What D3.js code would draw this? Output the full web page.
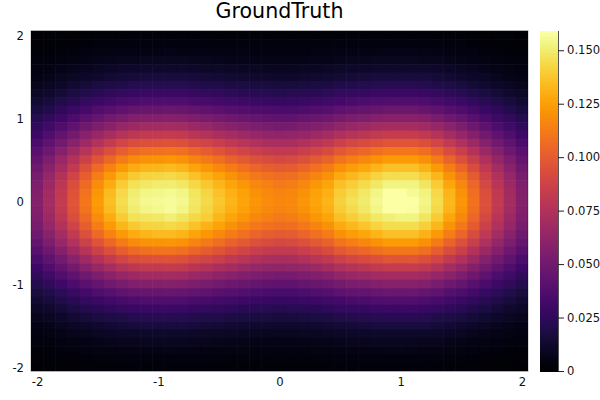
<!DOCTYPE html>
<html><head><meta charset="utf-8">
<script src="https://cdn.jsdelivr.net/npm/d3@7"></script>
<style>html,body{margin:0;padding:0;background:#fff}svg{display:block;font-family:"DejaVu Sans",sans-serif}</style>
</head><body><svg id="c" width="600" height="400"></svg>
<script>
const titleText = "GroundTruth";
const xCenters = [-2,-1.9,-1.8,-1.7,-1.6,-1.5,-1.4,-1.3,-1.2,-1.1,-1,-.9,-.8,-.7,-.6,-.5,-.4,-.3,-.2,-.1,0,.1,.2,.3,.4,.5,.6,.7,.8,.9,1,1.1,1.2,1.3,1.4,1.5,1.6,1.7,1.8,1.9,2];
const yCenters = [2,1.9,1.8,1.7,1.6,1.5,1.4,1.3,1.2,1.1,1,.9,.8,.7,.6,.5,.4,.3,.2,.1,0,-.1,-.2,-.3,-.4,-.5,-.6,-.7,-.8,-.9,-1,-1.1,-1.2,-1.3,-1.4,-1.5,-1.6,-1.7,-1.8,-1.9,-2];
const xTicks = [-2,-1,0,1,2];
const yTicks = [-2,-1,0,1,2];
const barTicks = [0,.025,.05,.075,.1,.125,.15];
const barTickLabels = ["0","0.025","0.050","0.075","0.100","0.125","0.150"];
const colorMax = 0.159;
const density = [
[.0010,.0013,.0015,.0017,.0020,.0022,.0024,.0026,.0027,.0028,.0028,.0028,.0028,.0027,.0026,.0025,.0024,.0023,.0022,.0021,.0021,.0021,.0022,.0023,.0024,.0025,.0026,.0027,.0028,.0029,.0029,.0029,.0028,.0026,.0024,.0022,.0020,.0017,.0015,.0013,.0010],
[.0016,.0019,.0022,.0026,.0030,.0033,.0036,.0039,.0041,.0042,.0042,.0042,.0042,.0040,.0039,.0037,.0036,.0034,.0033,.0032,.0032,.0032,.0033,.0034,.0036,.0038,.0039,.0041,.0042,.0043,.0043,.0043,.0042,.0039,.0036,.0033,.0029,.0026,.0022,.0019,.0016],
[.0023,.0028,.0033,.0039,.0044,.0050,.0054,.0058,.0061,.0062,.0062,.0063,.0062,.0060,.0058,.0055,.0053,.0051,.0049,.0048,.0047,.0047,.0049,.0051,.0053,.0056,.0058,.0060,.0062,.0064,.0064,.0064,.0062,.0058,.0053,.0049,.0044,.0038,.0033,.0028,.0023],
[.0032,.0039,.0046,.0054,.0062,.0069,.0076,.0081,.0085,.0087,.0087,.0088,.0087,.0083,.0081,.0077,.0074,.0071,.0068,.0067,.0066,.0066,.0068,.0071,.0074,.0079,.0082,.0084,.0087,.0089,.0089,.0089,.0086,.0081,.0074,.0068,.0061,.0053,.0046,.0039,.0032],
[.0045,.0054,.0064,.0075,.0085,.0095,.0104,.0112,.0117,.0119,.0120,.0121,.0119,.0115,.0111,.0106,.0102,.0098,.0094,.0092,.0090,.0091,.0094,.0098,.0102,.0109,.0112,.0116,.0119,.0122,.0122,.0122,.0119,.0112,.0102,.0094,.0084,.0073,.0063,.0054,.0045],
[.0061,.0074,.0087,.0102,.0117,.0130,.0142,.0152,.0160,.0163,.0164,.0165,.0163,.0156,.0151,.0145,.0139,.0133,.0128,.0125,.0123,.0124,.0128,.0133,.0139,.0148,.0153,.0158,.0163,.0167,.0167,.0167,.0162,.0152,.0140,.0128,.0114,.0100,.0086,.0074,.0061],
[.0082,.0099,.0117,.0137,.0157,.0175,.0190,.0204,.0214,.0219,.0220,.0221,.0219,.0210,.0203,.0195,.0186,.0179,.0172,.0168,.0165,.0166,.0172,.0179,.0186,.0199,.0206,.0212,.0219,.0224,.0224,.0224,.0217,.0204,.0188,.0172,.0154,.0134,.0116,.0099,.0082],
[.0107,.0130,.0154,.0179,.0205,.0229,.0250,.0268,.0281,.0287,.0289,.0290,.0287,.0276,.0266,.0255,.0244,.0235,.0226,.0220,.0216,.0218,.0226,.0235,.0244,.0261,.0270,.0278,.0287,.0294,.0294,.0294,.0285,.0268,.0246,.0226,.0202,.0176,.0152,.0130,.0107],
[.0137,.0166,.0197,.0230,.0263,.0294,.0320,.0344,.0360,.0367,.0370,.0372,.0367,.0353,.0341,.0327,.0313,.0301,.0289,.0282,.0277,.0280,.0289,.0301,.0313,.0334,.0346,.0356,.0367,.0377,.0377,.0377,.0365,.0344,.0315,.0289,.0258,.0225,.0194,.0166,.0137],
[.0173,.0209,.0247,.0289,.0331,.0370,.0402,.0432,.0453,.0462,.0465,.0468,.0462,.0444,.0429,.0411,.0393,.0378,.0364,.0355,.0349,.0352,.0364,.0378,.0393,.0420,.0435,.0447,.0462,.0474,.0474,.0474,.0459,.0432,.0396,.0364,.0325,.0283,.0244,.0209,.0173],
[.0213,.0258,.0305,.0357,.0408,.0456,.0497,.0534,.0559,.0570,.0574,.0578,.0570,.0548,.0530,.0508,.0486,.0467,.0449,.0438,.0431,.0434,.0449,.0467,.0486,.0519,.0537,.0552,.0570,.0585,.0585,.0585,.0567,.0534,.0489,.0449,.0401,.0350,.0302,.0258,.0213],
[.0258,.0312,.0369,.0432,.0494,.0552,.0601,.0645,.0676,.0690,.0694,.0699,.0690,.0663,.0641,.0614,.0587,.0565,.0543,.0530,.0521,.0525,.0543,.0565,.0587,.0627,.0650,.0668,.0690,.0708,.0708,.0708,.0685,.0645,.0592,.0543,.0485,.0423,.0365,.0312,.0258],
[.0306,.0369,.0437,.0511,.0585,.0653,.0711,.0764,.0801,.0817,.0822,.0827,.0817,.0785,.0759,.0727,.0696,.0669,.0643,.0627,.0617,.0622,.0643,.0669,.0696,.0743,.0769,.0791,.0817,.0838,.0838,.0838,.0812,.0764,.0701,.0643,.0574,.0501,.0432,.0369,.0306],
[.0356,.0429,.0509,.0595,.0680,.0760,.0828,.0889,.0932,.0950,.0956,.0962,.0950,.0913,.0883,.0846,.0809,.0779,.0748,.0729,.0717,.0723,.0748,.0779,.0809,.0864,.0895,.0920,.0950,.0975,.0975,.0975,.0944,.0889,.0815,.0748,.0668,.0582,.0503,.0429,.0356],
[.0405,.0489,.0579,.0677,.0775,.0866,.0942,.1012,.1061,.1082,.1089,.1096,.1082,.1040,.1005,.0963,.0921,.0886,.0852,.0831,.0817,.0824,.0852,.0886,.0921,.0984,.1019,.1047,.1082,.1110,.1110,.1110,.1075,.1012,.0928,.0852,.0761,.0663,.0572,.0489,.0405],
[.0452,.0545,.0647,.0756,.0865,.0966,.1052,.1130,.1184,.1207,.1215,.1223,.1207,.1161,.1122,.1075,.1028,.0989,.0950,.0927,.0911,.0919,.0950,.0989,.1028,.1098,.1137,.1169,.1207,.1239,.1239,.1239,.1200,.1130,.1036,.0950,.0849,.0740,.0639,.0545,.0452],
[.0494,.0596,.0707,.0826,.0946,.1056,.1150,.1235,.1295,.1321,.1329,.1338,.1321,.1269,.1227,.1176,.1125,.1082,.1039,.1014,.0997,.1005,.1039,.1082,.1125,.1201,.1244,.1278,.1321,.1355,.1355,.1355,.1312,.1235,.1133,.1039,.0929,.0809,.0699,.0596,.0494],
[.0530,.0640,.0759,.0887,.1015,.1133,.1234,.1325,.1389,.1417,.1426,.1435,.1417,.1362,.1316,.1261,.1206,.1161,.1115,.1088,.1069,.1079,.1115,.1161,.1206,.1289,.1334,.1371,.1417,.1453,.1453,.1453,.1408,.1325,.1216,.1115,.0996,.0868,.0749,.0640,.0530],
[.0557,.0673,.0798,.0932,.1067,.1192,.1297,.1393,.1461,.1490,.1499,.1509,.1490,.1432,.1384,.1326,.1269,.1220,.1172,.1144,.1124,.1134,.1172,.1220,.1269,.1355,.1403,.1442,.1490,.1528,.1528,.1528,.1480,.1393,.1278,.1172,.1047,.0913,.0788,.0673,.0557],
[.0574,.0693,.0822,.0960,.1099,.1228,.1337,.1436,.1505,.1535,.1544,.1554,.1535,.1475,.1426,.1366,.1307,.1257,.1208,.1178,.1158,.1168,.1208,.1257,.1307,.1396,.1445,.1485,.1535,.1590,.1590,.1560,.1525,.1436,.1317,.1208,.1079,.0941,.0812,.0693,.0574],
[.0580,.0700,.0830,.0970,.1110,.1240,.1350,.1450,.1520,.1550,.1560,.1570,.1550,.1490,.1440,.1380,.1320,.1270,.1220,.1190,.1170,.1180,.1220,.1270,.1320,.1410,.1460,.1500,.1550,.1590,.1590,.1590,.1540,.1450,.1330,.1220,.1090,.0950,.0820,.0700,.0580],
[.0574,.0693,.0822,.0960,.1099,.1228,.1337,.1436,.1505,.1535,.1550,.1570,.1540,.1475,.1426,.1366,.1307,.1257,.1208,.1178,.1158,.1168,.1208,.1257,.1307,.1396,.1445,.1485,.1535,.1590,.1590,.1580,.1525,.1436,.1317,.1208,.1079,.0941,.0812,.0693,.0574],
[.0557,.0673,.0798,.0932,.1067,.1192,.1297,.1393,.1461,.1480,.1490,.1510,.1480,.1432,.1400,.1326,.1269,.1220,.1172,.1144,.1124,.1134,.1172,.1220,.1269,.1355,.1403,.1442,.1490,.1510,.1530,.1530,.1480,.1393,.1278,.1172,.1047,.0913,.0788,.0673,.0557],
[.0530,.0640,.0759,.0887,.1015,.1133,.1234,.1325,.1389,.1417,.1426,.1435,.1417,.1362,.1316,.1261,.1206,.1161,.1115,.1088,.1069,.1079,.1115,.1161,.1206,.1289,.1334,.1371,.1417,.1453,.1453,.1453,.1408,.1325,.1216,.1115,.0996,.0868,.0749,.0640,.0530],
[.0494,.0596,.0707,.0826,.0946,.1056,.1150,.1235,.1295,.1321,.1340,.1338,.1321,.1269,.1227,.1176,.1125,.1082,.1039,.1014,.0997,.1005,.1039,.1082,.1125,.1201,.1244,.1278,.1321,.1355,.1355,.1355,.1312,.1235,.1133,.1039,.0929,.0809,.0699,.0596,.0494],
[.0452,.0545,.0647,.0756,.0865,.0966,.1052,.1130,.1184,.1207,.1215,.1223,.1207,.1161,.1122,.1075,.1028,.0989,.0950,.0927,.0911,.0919,.0950,.0989,.1028,.1098,.1137,.1169,.1207,.1239,.1239,.1239,.1200,.1130,.1036,.0950,.0849,.0740,.0639,.0545,.0452],
[.0405,.0489,.0579,.0677,.0775,.0866,.0942,.1012,.1061,.1082,.1095,.1096,.1082,.1040,.1005,.0963,.0921,.0886,.0852,.0831,.0817,.0824,.0852,.0886,.0921,.0984,.1019,.1047,.1082,.1110,.1110,.1110,.1075,.1012,.0928,.0852,.0761,.0663,.0572,.0489,.0405],
[.0356,.0429,.0509,.0595,.0680,.0760,.0828,.0889,.0932,.0950,.0956,.0962,.0950,.0913,.0883,.0846,.0809,.0779,.0748,.0729,.0717,.0723,.0748,.0779,.0809,.0864,.0895,.0920,.0950,.0975,.0975,.0975,.0944,.0889,.0815,.0748,.0668,.0582,.0503,.0429,.0356],
[.0306,.0369,.0437,.0511,.0585,.0653,.0711,.0764,.0801,.0817,.0822,.0827,.0817,.0785,.0759,.0727,.0696,.0669,.0643,.0627,.0617,.0622,.0643,.0669,.0696,.0743,.0769,.0791,.0817,.0838,.0838,.0838,.0812,.0764,.0701,.0643,.0574,.0501,.0432,.0369,.0306],
[.0258,.0312,.0369,.0432,.0494,.0552,.0601,.0645,.0676,.0690,.0694,.0699,.0690,.0663,.0641,.0614,.0587,.0565,.0543,.0530,.0521,.0525,.0543,.0565,.0587,.0627,.0650,.0668,.0690,.0708,.0708,.0708,.0685,.0645,.0592,.0543,.0485,.0423,.0365,.0312,.0258],
[.0213,.0258,.0305,.0357,.0408,.0456,.0497,.0534,.0559,.0570,.0574,.0578,.0570,.0548,.0530,.0508,.0486,.0467,.0449,.0438,.0431,.0434,.0449,.0467,.0486,.0519,.0537,.0552,.0570,.0585,.0585,.0585,.0567,.0534,.0489,.0449,.0401,.0350,.0302,.0258,.0213],
[.0173,.0209,.0247,.0289,.0331,.0370,.0402,.0432,.0453,.0462,.0465,.0468,.0462,.0444,.0429,.0411,.0393,.0378,.0364,.0355,.0349,.0352,.0364,.0378,.0393,.0420,.0435,.0447,.0462,.0474,.0474,.0474,.0459,.0432,.0396,.0364,.0325,.0283,.0244,.0209,.0173],
[.0137,.0166,.0197,.0230,.0263,.0294,.0320,.0344,.0360,.0367,.0370,.0372,.0367,.0353,.0341,.0327,.0313,.0301,.0289,.0282,.0277,.0280,.0289,.0301,.0313,.0334,.0346,.0356,.0367,.0377,.0377,.0377,.0365,.0344,.0315,.0289,.0258,.0225,.0194,.0166,.0137],
[.0107,.0130,.0154,.0179,.0205,.0229,.0250,.0268,.0281,.0287,.0289,.0290,.0287,.0276,.0266,.0255,.0244,.0235,.0226,.0220,.0216,.0218,.0226,.0235,.0244,.0261,.0270,.0278,.0287,.0294,.0294,.0294,.0285,.0268,.0246,.0226,.0202,.0176,.0152,.0130,.0107],
[.0082,.0099,.0117,.0137,.0157,.0175,.0190,.0204,.0214,.0219,.0220,.0221,.0219,.0210,.0203,.0195,.0186,.0179,.0172,.0168,.0165,.0166,.0172,.0179,.0186,.0199,.0206,.0212,.0219,.0224,.0224,.0224,.0217,.0204,.0188,.0172,.0154,.0134,.0116,.0099,.0082],
[.0061,.0074,.0087,.0102,.0117,.0130,.0142,.0152,.0160,.0163,.0164,.0165,.0163,.0156,.0151,.0145,.0139,.0133,.0128,.0125,.0123,.0124,.0128,.0133,.0139,.0148,.0153,.0158,.0163,.0167,.0167,.0167,.0162,.0152,.0140,.0128,.0114,.0100,.0086,.0074,.0061],
[.0045,.0054,.0064,.0075,.0085,.0095,.0104,.0112,.0117,.0119,.0120,.0121,.0119,.0115,.0111,.0106,.0102,.0098,.0094,.0092,.0090,.0091,.0094,.0098,.0102,.0109,.0112,.0116,.0119,.0122,.0122,.0122,.0119,.0112,.0102,.0094,.0084,.0073,.0063,.0054,.0045],
[.0032,.0039,.0046,.0054,.0062,.0069,.0076,.0081,.0085,.0087,.0087,.0088,.0087,.0083,.0081,.0077,.0074,.0071,.0068,.0067,.0066,.0066,.0068,.0071,.0074,.0079,.0082,.0084,.0087,.0089,.0089,.0089,.0086,.0081,.0074,.0068,.0061,.0053,.0046,.0039,.0032],
[.0023,.0028,.0033,.0039,.0044,.0050,.0054,.0058,.0061,.0062,.0062,.0063,.0062,.0060,.0058,.0055,.0053,.0051,.0049,.0048,.0047,.0047,.0049,.0051,.0053,.0056,.0058,.0060,.0062,.0064,.0064,.0064,.0062,.0058,.0053,.0049,.0044,.0038,.0033,.0028,.0023],
[.0016,.0019,.0022,.0026,.0030,.0033,.0036,.0039,.0041,.0042,.0042,.0042,.0042,.0040,.0039,.0037,.0036,.0034,.0033,.0032,.0032,.0032,.0033,.0034,.0036,.0038,.0039,.0041,.0042,.0043,.0043,.0043,.0042,.0039,.0036,.0033,.0029,.0026,.0022,.0019,.0016],
[.0010,.0013,.0015,.0017,.0020,.0022,.0024,.0026,.0027,.0028,.0028,.0028,.0028,.0027,.0026,.0025,.0024,.0023,.0022,.0021,.0021,.0021,.0022,.0023,.0024,.0025,.0026,.0027,.0028,.0029,.0029,.0029,.0028,.0026,.0024,.0022,.0020,.0017,.0015,.0013,.0010]
];

const svg = d3.select("#c");
const plot = {l:31, r:528, t:31, b:371};
const bar = {l:540, r:558};
const halfCell = 0.05;
const x = d3.scaleLinear().domain([-2-halfCell, 2+halfCell]).range([plot.l, plot.r]);
const y = d3.scaleLinear().domain([-2-halfCell, 2+halfCell]).range([plot.b, plot.t]);
const color = d3.scaleSequential(d3.interpolateInferno).domain([0, colorMax]).clamp(true);
const barY = d3.scaleLinear().domain([0, colorMax]).range([plot.b, plot.t]);

svg.append("rect").attr("width",600).attr("height",400).attr("fill","#fff");
svg.append("clipPath").attr("id","plotClip").append("rect")
  .attr("x",plot.l).attr("y",plot.t).attr("width",plot.r-plot.l).attr("height",plot.b-plot.t);

const cells = [];
density.forEach((row,j)=>row.forEach((v,i)=>cells.push({x:xCenters[i],y:yCenters[j],v})));
svg.append("g").attr("clip-path","url(#plotClip)").selectAll("rect").data(cells).join("rect")
  .attr("x",d=>x(d.x-halfCell)).attr("y",d=>y(d.y+halfCell))
  .attr("width",d=>x(d.x+halfCell)-x(d.x-halfCell)+0.6).attr("height",d=>y(d.y-halfCell)-y(d.y+halfCell)+0.6)
  .attr("fill",d=>color(d.v));

// plot frame
svg.append("rect").attr("x",plot.l).attr("y",plot.t-0.5).attr("width",plot.r-plot.l).attr("height",plot.b-plot.t+1)
  .attr("fill","none").attr("stroke","#000").attr("stroke-opacity",0.3).attr("stroke-width",1);

// axes
const xAxis = d3.axisBottom(x).tickValues(xTicks).tickFormat(d=>String(d)).tickSize(0).tickPadding(7);
const gx = svg.append("g").attr("transform",`translate(0,${plot.b})`).call(xAxis);
gx.select(".domain").remove();
gx.selectAll("text").attr("font-size",11.6).attr("font-family","DejaVu Sans").attr("fill","#111");
const yAxis = d3.axisLeft(y).tickValues(yTicks).tickFormat(d=>String(d)).tickSize(0).tickPadding(7);
const gy = svg.append("g").attr("transform",`translate(${plot.l},0.7)`).call(yAxis);
gy.select(".domain").remove();
gy.selectAll("text").attr("font-size",11.6).attr("font-family","DejaVu Sans").attr("fill","#111");

// colorbar
const steps = d3.range(0,256);
const stepH = (plot.b-plot.t)/256;
svg.append("g").attr("shape-rendering","crispEdges").selectAll("rect").data(steps).join("rect")
  .attr("x",bar.l).attr("width",bar.r-bar.l)
  .attr("y",s=>barY((s+1)/256*colorMax)).attr("height",stepH+0.6)
  .attr("fill",s=>color((s+0.5)/256*colorMax));
const barAxis = d3.axisRight(barY).tickValues(barTicks).tickFormat((d,i)=>barTickLabels[i]).tickSize(6).tickPadding(3);
const gb = svg.append("g").attr("transform",`translate(${bar.r},0)`).call(barAxis);
gb.select(".domain").attr("stroke","#555").attr("d",`M0.5,${plot.t}V${plot.b}`);
gb.selectAll("line").attr("stroke","#222");
gb.selectAll("text").attr("font-size",11.6).attr("font-family","DejaVu Sans").attr("fill","#111");

svg.append("text").attr("x",(plot.l+plot.r)/2).attr("y",18).attr("text-anchor","middle")
  .attr("font-size",20.6).attr("font-family","DejaVu Sans").attr("fill","#000").text(titleText);
</script></body></html>
